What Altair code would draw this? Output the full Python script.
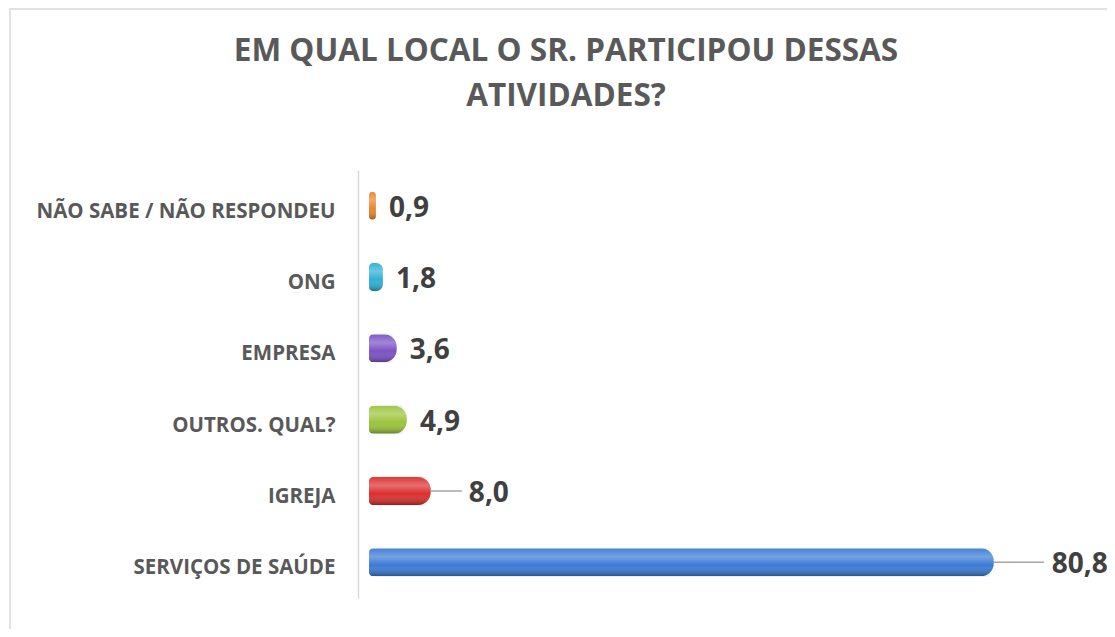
import altair as alt
import pandas as pd

categorias = [
    "NÃO SABE / NÃO RESPONDEU",
    "ONG",
    "EMPRESA",
    "OUTROS. QUAL?",
    "IGREJA",
    "SERVIÇOS DE SAÚDE",
]
valores = [0.9, 1.8, 3.6, 4.9, 8.0, 80.8]
cores = ["#E8862A", "#2DB0D6", "#7B52C4", "#9CC43C", "#DC2F2D", "#3A7BD5"]
titulo = ["EM QUAL LOCAL O SR. PARTICIPOU DESSAS", "ATIVIDADES?"]
com_guia = ["IGREJA", "SERVIÇOS DE SAÚDE"]

df = pd.DataFrame({
    "categoria": categorias,
    "valor": valores,
    "rotulo": [f"{v:.1f}".replace(".", ",") for v in valores],
})

FONT = "Open Sans"
TXT = "#404040"

y_enc = alt.Y(
    "categoria:N",
    sort=categorias,
    title=None,
    scale=alt.Scale(paddingInner=0, paddingOuter=0),
    axis=alt.Axis(
        domain=True, domainColor="#d9d9d9", domainWidth=1.5, ticks=False,
        labelFont=FONT, labelFontSize=20.5, labelFontWeight="bold",
        labelColor="#595959", labelPadding=23, offset=11, labelOffset=6,
        labelLimit=400,
    ),
)
x_enc = alt.X("valor:Q", scale=alt.Scale(domain=[0, 90]), axis=None)

base = alt.Chart(df)

borda = base.mark_rect(fill="transparent", stroke="#d9d9d9", strokeWidth=1.5).encode(
    x=alt.value(-359), x2=alt.value(760), y=alt.value(-161), y2=alt.value(480)
).transform_filter(alt.datum.categoria == categorias[0])

sombra = base.mark_bar(size=30, cornerRadius=10, color="#7f7f7f", opacity=0.12,
                       xOffset=-4, x2Offset=-4).encode(
    y=y_enc, x=alt.X("valor:Q", scale=alt.Scale(domain=[0, 90]), axis=None)
)

barras = base.mark_bar(size=28, cornerRadiusEnd=13, cornerRadiusTopLeft=4,
                       cornerRadiusBottomLeft=4).encode(
    y=y_enc,
    x=x_enc,
    color=alt.Color("categoria:N", scale=alt.Scale(domain=categorias, range=cores),
                    legend=None),
)

brilho = base.mark_bar(
    size=28, cornerRadiusEnd=13, cornerRadiusTopLeft=4, cornerRadiusBottomLeft=4,
    fill=alt.Gradient(
        gradient="linear", x1=0, y1=0, x2=0, y2=1,
        stops=[
            alt.GradientStop(offset=0, color="rgba(255,255,255,0.05)"),
            alt.GradientStop(offset=0.3, color="rgba(255,255,255,0.30)"),
            alt.GradientStop(offset=0.6, color="rgba(255,255,255,0.0)"),
            alt.GradientStop(offset=1, color="rgba(0,0,0,0.35)"),
        ],
    ),
).encode(y=y_enc, x=x_enc)

rot_simples = base.mark_text(
    align="left", baseline="middle", dx=13, dy=3, font=FONT, fontSize=28,
    fontWeight="bold", color=TXT,
).encode(y=y_enc, x=x_enc, text="rotulo:N").transform_filter(
    ~alt.FieldOneOfPredicate(field="categoria", oneOf=com_guia)
)

guia1 = base.mark_rule(color="#a6a6a6", strokeWidth=1.5, x2Offset=31).encode(
    y=y_enc, x=x_enc, x2="valor:Q"
).transform_filter(alt.datum.categoria == com_guia[0])
rot1 = base.mark_text(
    align="left", baseline="middle", dx=38, dy=3, font=FONT, fontSize=28,
    fontWeight="bold", color=TXT,
).encode(y=y_enc, x=x_enc, text="rotulo:N").transform_filter(
    alt.datum.categoria == com_guia[0]
)

guia2 = base.mark_rule(color="#a6a6a6", strokeWidth=1.5, x2Offset=50).encode(
    y=y_enc, x=x_enc, x2="valor:Q"
).transform_filter(alt.datum.categoria == com_guia[1])
rot2 = base.mark_text(
    align="left", baseline="middle", dx=58, dy=3, font=FONT, fontSize=28,
    fontWeight="bold", color=TXT,
).encode(y=y_enc, x=x_enc, text="rotulo:N").transform_filter(
    alt.datum.categoria == com_guia[1]
)

chart = alt.layer(borda, sombra, barras, brilho, rot_simples, guia1, rot1, guia2, rot2).properties(
    width=696,
    height=428,
    background="white",
    autosize=alt.AutoSizeParams(type="none"),
    padding={"left": 361, "top": 162, "right": 42, "bottom": 31},
    title=alt.Title(
        text=titulo, font=FONT, fontSize=31.5, fontWeight="bold", color="#595959",
        lineHeight=45, anchor="middle", frame="group", dx=-151, offset=-129,
        baseline="alphabetic",
    ),
).configure_view(strokeWidth=0, stroke="transparent")

chart.save("out.html", embed_options={"renderer": "svg", "actions": False})
